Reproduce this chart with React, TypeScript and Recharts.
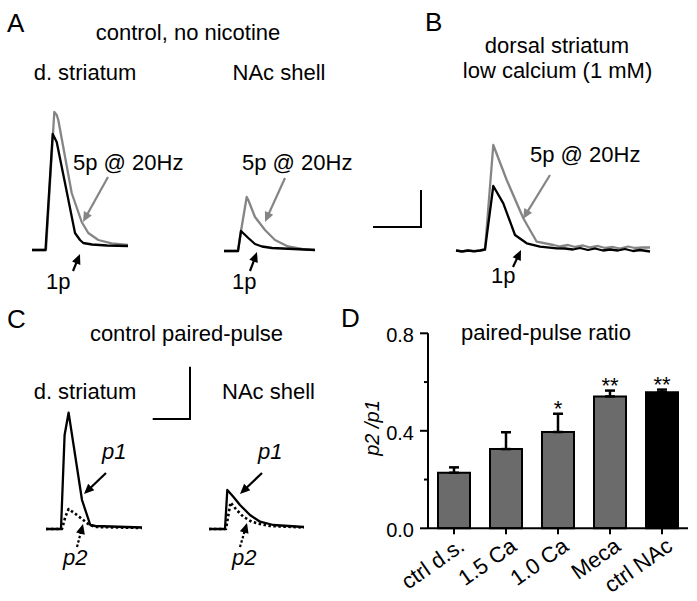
import * as React from 'react';
import {
  LineChart, Line, XAxis, YAxis, ComposedChart, Bar, Cell, ErrorBar, Scatter,
} from 'recharts';

// ---- traces (time in samples from trace start, amplitude above baseline) ----
const aStrT_black = [0, 13.5, 20.7, 24.7, 34, 43, 48, 51.3, 60, 75, 96];
const aStrA_black = [0, 0, 116, 108, 62, 17, 10, 7, 5.5, 4.5, 4];
const aStrT_gray = [0, 14, 22.3, 24.7, 26.3, 39.7, 49.7, 56.3, 66.3, 79.7, 96];
const aStrA_gray = [0, 0, 138, 135, 130, 57, 28, 17, 10, 6.7, 5];

const aNacT_gray = [0, 14, 17, 22.7, 24.3, 31, 41, 51, 64, 78, 91];
const aNacA_gray = [0, 0, 20, 54, 51, 34, 21, 11, 4.5, 2, 1];
const aNacT_black = [0, 14, 17, 24.3, 31, 38, 48, 91];
const aNacA_black = [0, 0, 20, 13, 7, 4.5, 3, 1];

const bT_black = [0, 6, 12, 18, 24, 29, 37.3, 47.3, 59, 70.7, 84, 100.7, 109, 117, 124, 132, 139, 147, 154, 162, 169, 177, 184, 194];
const bA_black = [0.5, -0.5, 0.5, -0.3, 0.5, 1.5, 65, 47.7, 16, 7.7, 4.3, 2.7, 2.5, 1.5, 3, 1, 2.5, 0.5, 1.5, 0.5, 2, 0, 1, -0.5];
const bT_gray = [0, 6, 12, 18, 24, 29, 37.3, 50.7, 67.3, 80.7, 97.3, 104, 112, 119, 127, 134, 142, 149, 157, 164, 172, 179, 187, 194];
const bA_gray = [0.5, -0.3, 0.5, 0, 0.5, 1.5, 106, 71, 32.7, 9.3, 6, 4.5, 6, 4, 5.5, 3.5, 5, 3, 4, 2.5, 4.5, 3, 3.5, 3.5];

const cStrT_p1 = [0, 15, 18.6, 22.6, 36, 44.3, 49.3, 96];
const cStrA_p1 = [0, 0, 94, 116.3, 29, 4, 3, 1.5];
const cStrT_p2 = [0, 16, 19.3, 22.6, 31, 42.6, 49.3, 96];
const cStrA_p2 = [0, 0, 12, 20, 14, 4.7, 2, 1];

const cNacT_p1 = [0, 16, 18.3, 24.3, 31, 41, 51, 64.3, 95];
const cNacA_p1 = [0, 0, 39, 32.3, 24, 14, 7.3, 4, 2];
const cNacT_p2 = [0, 17, 21.5, 27.7, 34.3, 42.7, 51, 61, 95];
const cNacA_p2 = [0, 0, 26.5, 19, 12.3, 7.3, 5, 3, 1.5];

// ---- paired-pulse ratio ----
const groups = ['ctrl d.s.', '1.5 Ca', '1.0 Ca', 'Meca', 'ctrl NAc'];
const ratio = [0.228, 0.325, 0.395, 0.541, 0.558];
const sem = [0.022, 0.069, 0.075, 0.024, 0.011];
const stars = ['', '', '*', '**', '**'];
const yTicks = [0, 0.2, 0.4, 0.6, 0.8];
const yLabeled = [0, 0.4, 0.8];

const GRAY = '#858585';
const BAR_GRAY = '#6b6b6b';
const FONT = '"Liberation Sans", Arial, Helvetica, sans-serif';

const zip = (t: number[], a: number[]) => t.map((v, i) => ({ t: v, v: a[i] }));

type TraceLine = { t: number[]; a: number[]; color: string; dash?: string; width?: number };

function Trace({ x0, base, tMax, aMin, aMax, lines }: { x0: number; base: number; tMax: number; aMin: number; aMax: number; lines: TraceLine[] }) {
  const pad = 3;
  return (
    <div style={{ position: 'absolute', left: x0 - pad, top: base - aMax - pad }}>
      <LineChart width={tMax + 2 * pad} height={aMax - aMin + 2 * pad} margin={{ top: 0, right: 0, bottom: 0, left: 0 }}>
        <XAxis type="number" dataKey="t" domain={[-pad, tMax + pad]} hide />
        <YAxis type="number" domain={[aMin - pad, aMax + pad]} hide />
        {lines.map((l, i) => (
          <Line
            key={i}
            data={zip(l.t, l.a)}
            dataKey="v"
            type="linear"
            stroke={l.color}
            strokeWidth={l.width ?? 2.3}
            strokeDasharray={l.dash}
            strokeLinejoin="round"
            dot={false}
            isAnimationActive={false}
          />
        ))}
      </LineChart>
    </div>
  );
}

function Arrow({ x1, y1, x2, y2, color = '#000', dashed = false }: { x1: number; y1: number; x2: number; y2: number; color?: string; dashed?: boolean }) {
  const dx = x2 - x1, dy = y2 - y1;
  const len = Math.hypot(dx, dy);
  const ux = dx / len, uy = dy / len;
  const hl = 10, hw = 4.5;
  const bx = x2 - ux * hl, by = y2 - uy * hl;
  const pts = `${x2},${y2} ${bx - uy * hw},${by + ux * hw} ${bx + uy * hw},${by - ux * hw}`;
  return (
    <g>
      <line x1={x1} y1={y1} x2={bx + ux * 2} y2={by + uy * 2} stroke={color} strokeWidth={2.2} strokeDasharray={dashed ? '2.5 2' : undefined} />
      <polygon points={pts} fill={color} />
    </g>
  );
}

const renderXTick = (props: any) => {
  const { x, y, payload } = props;
  const ax = x + 12, ay = y + 21;
  return (
    <g>
      <line x1={x} y1={y} x2={x} y2={y + 6} stroke="#000" strokeWidth={2} />
      <text x={ax} y={ay} textAnchor="end" fontFamily={FONT} fill="#000" style={{ fontSize: 22 }} transform={`rotate(-35 ${ax} ${ay})`}>
        {payload.value}
      </text>
    </g>
  );
};

const renderYTick = (props: any) => {
  const { x, y, payload } = props;
  const major = yLabeled.some((v) => Math.abs(v - payload.value) < 1e-6);
  return (
    <g>
      <line x1={x} y1={y} x2={x - (major ? 8 : 4)} y2={y} stroke="#000" strokeWidth={2} />
      {major && (
        <text x={x - 14} y={y + 9} textAnchor="end" fontFamily={FONT} fill="#000" style={{ fontSize: 20 }}>
          {Number(payload.value).toFixed(1)}
        </text>
      )}
    </g>
  );
};

const renderStar = (props: any) => {
  const { cx, cy, payload } = props;
  if (!payload || !payload.star) return <g />;
  return (
    <text x={cx} y={cy + 2} textAnchor="middle" fontFamily={FONT} fill="#000" style={{ fontSize: 22 }}>
      {payload.star}
    </text>
  );
};

export default function App() {
  const pprData = groups.map((g, i) => ({
    name: g,
    ratio: ratio[i],
    err: [0, sem[i]],
    top: ratio[i] + sem[i],
    star: stars[i],
  }));

  const T = (x: number, y: number, s: string, opts: any = {}) => (
    <text x={x} y={y} fontFamily={FONT} fontSize={opts.size ?? 22} textAnchor={opts.anchor ?? 'middle'} fontStyle={opts.italic ? 'italic' : 'normal'} fill="#000">
      {s}
    </text>
  );

  return (
    <div style={{ position: 'absolute', left: 0, top: 0, width: 697, height: 601, background: '#fff', overflow: 'hidden' }}>
      {/* A */}
      <Trace x0={32} base={250} tMax={96} aMin={0} aMax={138} lines={[
        { t: aStrT_gray, a: aStrA_gray, color: GRAY },
        { t: aStrT_black, a: aStrA_black, color: '#000' },
      ]} />
      <Trace x0={224} base={251} tMax={91} aMin={0} aMax={54} lines={[
        { t: aNacT_gray, a: aNacA_gray, color: GRAY },
        { t: aNacT_black, a: aNacA_black, color: '#000' },
      ]} />
      {/* B */}
      <Trace x0={456} base={251} tMax={194} aMin={-1} aMax={106} lines={[
        { t: bT_gray, a: bA_gray, color: GRAY },
        { t: bT_black, a: bA_black, color: '#000' },
      ]} />
      {/* C */}
      <Trace x0={45.7} base={529} tMax={96} aMin={0} aMax={117} lines={[
        { t: cStrT_p2, a: cStrA_p2, color: '#000', dash: '2.5 2.5', width: 2.6 },
        { t: cStrT_p1, a: cStrA_p1, color: '#000' },
      ]} />
      <Trace x0={209} base={529} tMax={95} aMin={0} aMax={39} lines={[
        { t: cNacT_p2, a: cNacA_p2, color: '#000', dash: '2.5 2.5', width: 2.6 },
        { t: cNacT_p1, a: cNacA_p1, color: '#000' },
      ]} />

      {/* D */}
      <div style={{ position: 'absolute', left: 340, top: 300 }}>
        <ComposedChart width={357} height={301} data={pprData} margin={{ top: 33.3, right: 9, bottom: 12.7, left: 40 }}>
          <XAxis dataKey="name" type="category" height={60} tickSize={0} tickMargin={0} interval={0}
            axisLine={{ stroke: '#000', strokeWidth: 2 }} tickLine={false} tick={renderXTick} />
          <YAxis type="number" domain={[0, 0.8]} ticks={yTicks} width={48} tickSize={0} tickMargin={0} interval={0}
            axisLine={{ stroke: '#000', strokeWidth: 2 }} tickLine={false} tick={renderYTick} />
          <Bar dataKey="ratio" barSize={32} stroke="#000" strokeWidth={2} isAnimationActive={false}>
            {pprData.map((d, i) => (
              <Cell key={d.name} fill={i === pprData.length - 1 ? '#000' : BAR_GRAY} />
            ))}
            <ErrorBar dataKey="err" direction="y" width={5} stroke="#000" strokeWidth={2.5} />
          </Bar>
          <Scatter dataKey="top" shape={renderStar} isAnimationActive={false} />
        </ComposedChart>
      </div>

      <svg width={697} height={601} style={{ position: 'absolute', left: 0, top: 0, pointerEvents: 'none' }}>
        {/* panel letters */}
        {T(7, 32, 'A', { size: 26, anchor: 'start' })}
        {T(425, 31, 'B', { size: 26, anchor: 'start' })}
        {T(7, 328, 'C', { size: 26, anchor: 'start' })}
        {T(341, 327, 'D', { size: 26, anchor: 'start' })}

        {/* A labels */}
        {T(188, 40, 'control, no nicotine')}
        {T(85, 80, 'd. striatum')}
        {T(279, 80, 'NAc shell')}
        {T(73, 170, '5p @ 20Hz', { anchor: 'start' })}
        {T(242, 170, '5p @ 20Hz', { anchor: 'start' })}
        {T(46, 289, '1p', { anchor: 'start' })}
        {T(232, 289, '1p', { anchor: 'start' })}
        <Arrow x1={108} y1={177} x2={83} y2={222} color={GRAY} />
        <Arrow x1={285} y1={178} x2={265} y2={222} color={GRAY} />
        <Arrow x1={73} y1={271} x2={80} y2={254} />
        <Arrow x1={250} y1={271} x2={257} y2={252} />

        {/* B labels */}
        {T(557, 53, 'dorsal striatum')}
        {T(557.5, 78, 'low calcium (1 mM)')}
        {T(530, 162, '5p @ 20Hz', { anchor: 'start' })}
        {T(491, 283, '1p', { anchor: 'start' })}
        <Arrow x1={550} y1={175} x2={523} y2={219} color={GRAY} />
        <Arrow x1={513} y1={267} x2={521} y2={250} />
        <polyline points="373,227 421,227 421,190" fill="none" stroke="#000" strokeWidth={2} />

        {/* C labels */}
        {T(186.5, 341, 'control paired-pulse')}
        {T(85, 399, 'd. striatum')}
        {T(268.5, 399, 'NAc shell')}
        {T(102, 459, 'p1', { anchor: 'start', italic: true })}
        {T(258, 459, 'p1', { anchor: 'start', italic: true })}
        {T(63, 565, 'p2', { anchor: 'start', italic: true })}
        {T(232, 565, 'p2', { anchor: 'start', italic: true })}
        <Arrow x1={106} y1={473} x2={84} y2={494} />
        <Arrow x1={262} y1={473} x2={240} y2={494} />
        <Arrow x1={77} y1={547} x2={83} y2={524} dashed />
        <Arrow x1={240} y1={547} x2={247} y2={523} dashed />
        <polyline points="152.7,419 190,419 190,366.7" fill="none" stroke="#000" strokeWidth={2} />

        {/* D labels */}
        {T(546, 340, 'paired-pulse ratio')}
        <text x={379} y={428} transform="rotate(-90 379 428)" textAnchor="middle" fontFamily={FONT} fontSize={20} fontStyle="italic" fill="#000">
          p2 /p1
        </text>
      </svg>
    </div>
  );
}
